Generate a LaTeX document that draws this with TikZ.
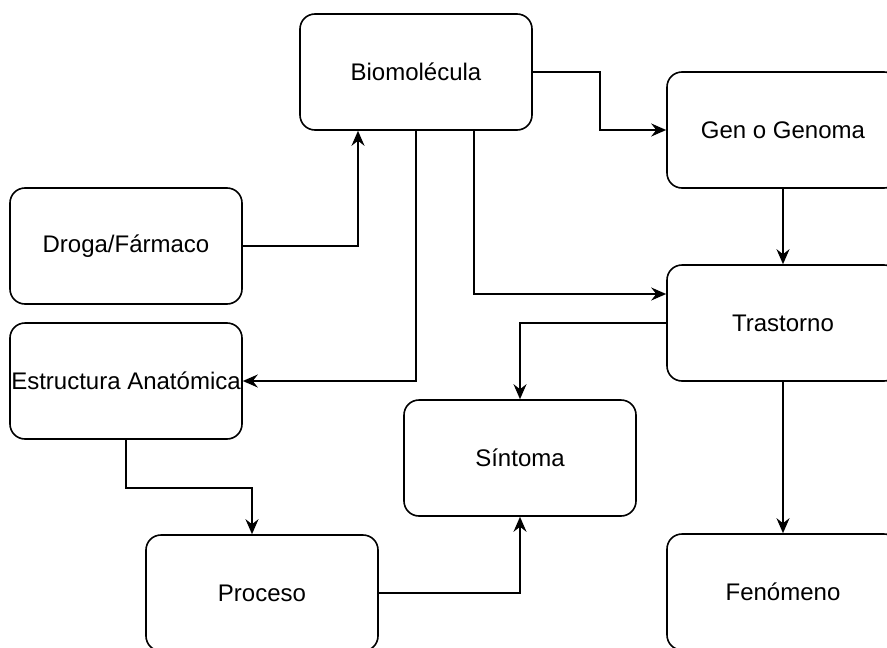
\documentclass[tikz,border=0pt]{standalone}
\usepackage{fontspec}
\setmainfont{Liberation Sans}
\usetikzlibrary{arrows.meta,calc}
\begin{document}
\begin{tikzpicture}[x=1pt,y=-1pt,
  box/.style={draw,line width=1.6pt,rounded corners=15pt,minimum width=232pt,minimum height=116pt,inner sep=0pt,fill=white,
    font=\fontsize{24pt}{28pt}\selectfont},
  link/.style={line width=1.6pt,-{Stealth[length=15pt,width=13pt,inset=5pt]}}]
\clip (0,0) rectangle (887,648);
\fill[white] (0,0) rectangle (887,648);
% entity boxes
\node[box] (bio)  at (416,72)  {Biomolécula};
\node[box] (gen)  at (783,130) {Gen o Genoma};
\node[box] (tras) at (783,323) {Trastorno};
\node[box] (fen)  at (783,592) {Fenómeno};
\node[box] (drog) at (126,246) {Droga/Fármaco};
\node[box] (estr) at (126,381) {Estructura Anatómica};
\node[box] (sint) at (520,458) {Síntoma};
\node[box] (proc) at (262,593) {Proceso};
% relations
\draw[link] (drog.east) -| ($(bio.south)+(-58,0)$);
\draw[link] (bio.east) -- ++(67,0) |- (gen.west);
\draw[link] ($(bio.south)+(58,0)$) |- ($(tras.west)+(0,-29)$);
\draw[link] (bio.south) |- (estr.east);
\draw[link] (gen.south) -- (tras.north);
\draw[link] (tras.west) -| (sint.north);
\draw[link] (tras.south) -- (fen.north);
\draw[link] (estr.south) -- ++(0,48) -| ($(proc.north)+(-10,0)$);
\draw[link] (proc.east) -| (sint.south);
\end{tikzpicture}
\end{document}
